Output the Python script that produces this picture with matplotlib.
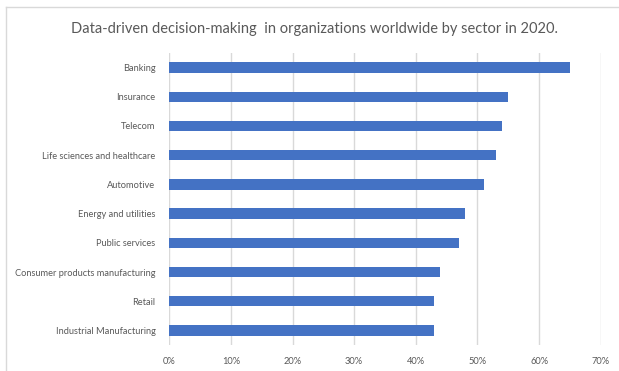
import matplotlib.pyplot as plt
from matplotlib.lines import Line2D
from matplotlib.ticker import FuncFormatter

categories = ["Banking", "Insurance", "Telecom", "Life sciences and healthcare",
              "Automotive", "Energy and utilities", "Public services",
              "Consumer products manufacturing", "Retail", "Industrial Manufacturing"]
values = [65, 55, 54, 53, 51, 48, 47, 44, 43, 43]
xticks = [0, 10, 20, 30, 40, 50, 60, 70]
title = "Data-driven decision-making  in organizations worldwide by sector in 2020."

plt.rcParams['font.family'] = ['Lato', 'DejaVu Sans']
W, H = 619, 371
fig = plt.figure(figsize=(W / 100, H / 100), dpi=100)
ax = fig.add_axes([169.3 / W, 1 - 345 / H, (600.7 - 169.3) / W, (345 - 53) / H])

n = len(categories)
ypos = list(range(n - 1, -1, -1))
ax.barh(ypos, values, height=0.35, color="#4472C4", zorder=3)
ax.set_ylim(-0.5, n - 0.5)
ax.set_xlim(0, 70)
ax.set_xticks(xticks)
ax.xaxis.set_major_formatter(FuncFormatter(lambda v, p: f"{int(v)}%"))
ax.set_yticks(ypos)
ax.set_yticklabels(categories)
ax.grid(axis="x", color="#d9d9d9", linewidth=1, zorder=0)
for s in ax.spines.values():
    s.set_visible(False)
ax.tick_params(axis="both", length=0, colors="#595959", labelsize=6.7)
ax.tick_params(axis="x", pad=9)
ax.tick_params(axis="y", pad=10)

fig.text(314.5 / W, 1 - 29 / H, title, ha="center", va="center", fontsize=10.5, color="#595959")

fig.add_artist(Line2D([6 / W, 1], [1 - 7 / H, 1 - 7 / H], color="#d9d9d9", linewidth=1, transform=fig.transFigure))
fig.add_artist(Line2D([6 / W, 6 / W], [0, 1 - 7 / H], color="#d9d9d9", linewidth=1, transform=fig.transFigure))

fig.savefig("out.png", dpi=100, facecolor="white")
